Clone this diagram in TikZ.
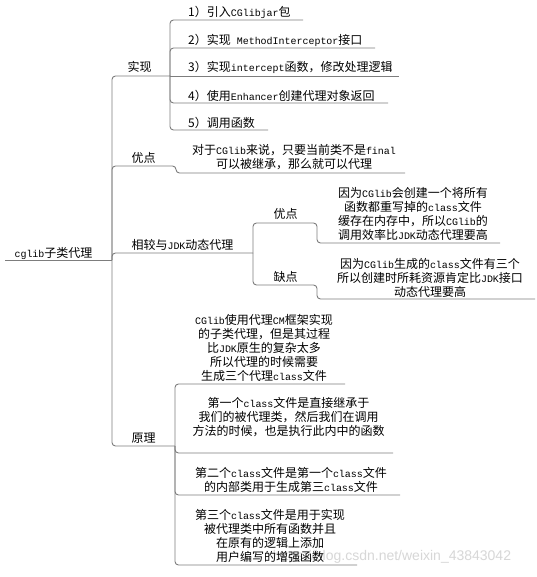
\documentclass[tikz,border=0pt]{standalone}
\usepackage{fontspec}
\setmainfont{Noto Sans CJK SC}
\newfontfamily\enf[Scale=0.83]{Liberation Mono}
\newfontfamily\wmf{Liberation Sans}
\newcommand\en[1]{{\enf #1}}
\definecolor{linecol}{RGB}{125,125,125}
\definecolor{wmcol}{RGB}{215,215,215}
\tikzset{
  conn/.style={draw=linecol, line width=0.9pt, rounded corners=3.5pt},
  lbl/.style={inner sep=0pt, font=\fontsize{12}{14}\selectfont, text=black},
  mlbl/.style={lbl, align=center},
  wm/.style={inner sep=0pt, font=\wmf\fontsize{14}{16}\selectfont, text=wmcol}
}
\begin{document}
\begin{tikzpicture}[x=1pt,y=-1pt]
\useasboundingbox[fill=white] (0,0) rectangle (536,577);

% watermark (behind)
\node[wm] (wmark) at (392,557) {https://blog.csdn.net/weixin\_43843042};

% coordinates of underline ends
\coordinate (root-s) at (5,260);
\coordinate (root-e) at (112,260);
\coordinate (sx-e) at (170,76);
\coordinate (c1-e) at (303,20);
\coordinate (c2-e) at (375,48);
\coordinate (c3-e) at (399,76);
\coordinate (c4-e) at (388,103);
\coordinate (c5-e) at (268,130);
\coordinate (yd-e) at (176,166);
\coordinate (ydl-e) at (405,173);
\coordinate (xj-e) at (253,253);
\coordinate (yd2-e) at (317,223);
\coordinate (yd2l-e) at (500,243);
\coordinate (qd-e) at (317,285);
\coordinate (qdl-e) at (535,299);
\coordinate (yl-e) at (175,446);
\coordinate (a-e) at (345,384);
\coordinate (b-e) at (393,453);
\coordinate (c-e) at (400,495);
\coordinate (d-e) at (357,565);

% labels
\node[lbl] (root) at (53.5,253) {\en{cglib}子类代理};
\node[lbl] (shixian) at (139.5,67) {实现};
\node[lbl, anchor=west] (c1) at (188,12) {1）引入\en{CGlibjar}包};
\node[lbl, anchor=west] (c2) at (188,40) {2）实现\en{ MethodInterceptor}接口};
\node[lbl, anchor=west] (c3) at (188,67) {3）实现\en{intercept}函数，修改处理逻辑};
\node[lbl, anchor=west] (c4) at (188,95.5) {4）使用\en{Enhancer}创建代理对象返回};
\node[lbl, anchor=west] (c5) at (188,123) {5）调用函数};

\node[lbl] (youdian) at (143.5,158) {优点};
\node[mlbl] (ydleaf) at (294,157.5) {对于\en{CGlib}来说，只要当前类不是\en{final}\\可以被继承，那么就可以代理};

\node[lbl] (xiangjiao) at (182.5,245) {相较与\en{JDK}动态代理};
\node[lbl] (youdian2) at (285.5,214) {优点};
\node[mlbl] (yd2leaf) at (413,214) {因为\en{CGlib}会创建一个将所有\\函数都重写掉的\en{class}文件\\缓存在内存中，所以\en{CGlib}的\\调用效率比\en{JDK}动态代理要高};
\node[lbl] (quedian) at (285.5,277) {缺点};
\node[mlbl] (qdleaf) at (430,278) {因为\en{CGlib}生成的\en{class}文件有三个\\所以创建时所耗资源肯定比\en{JDK}接口\\动态代理要高};

\node[lbl] (yuanli) at (143.5,438) {原理};
\node[mlbl] (ylA) at (264,348) {\en{CGlib}使用代理\en{CM}框架实现\\的子类代理，但是其过程\\比\en{JDK}原生的复杂太多\\所以代理的时候需要\\生成三个代理\en{class}文件};
\node[mlbl] (ylB) at (288.5,417.5) {第一个\en{class}文件是直接继承于\\我们的被代理类，然后我们在调用\\方法的时候，也是执行此内中的函数};
\node[mlbl] (ylC) at (291,480) {第二个\en{class}文件是第一个\en{class}文件\\的内部类用于生成第三\en{class}文件};
\node[mlbl] (ylD) at (270,535.5) {第三个\en{class}文件是用于实现\\被代理类中所有函数并且\\在原有的逻辑上添加\\用户编写的增强函数};

% connectors / underlines
\draw[conn] (root-s) -- (root-e);
\draw[conn] (root-e) |- (sx-e);
\draw[conn] (sx-e) |- (c1-e);
\draw[conn] (sx-e) |- (c2-e);
\draw[conn] (sx-e) -- (c3-e);
\draw[conn] (sx-e) |- (c4-e);
\draw[conn] (sx-e) |- (c5-e);

\draw[conn] (root-e) |- (yd-e) |- (ydl-e);

\draw[conn] (root-e) |- (xj-e);
\draw[conn] (xj-e) |- (yd2-e) |- (yd2l-e);
\draw[conn] (xj-e) |- (qd-e) |- (qdl-e);

\draw[conn] (root-e) |- (yl-e);
\draw[conn] (yl-e) |- (a-e);
\draw[conn] (yl-e) |- (b-e);
\draw[conn] (yl-e) |- (c-e);
\draw[conn] (yl-e) |- (d-e);
\end{tikzpicture}
\end{document}
